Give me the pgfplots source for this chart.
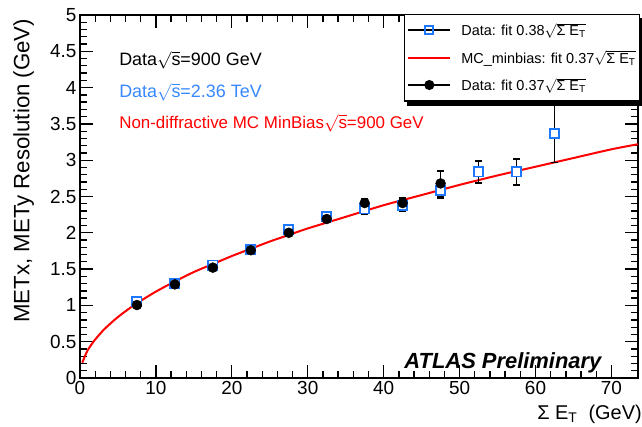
\documentclass[border=0pt]{standalone}
\usepackage{fontspec}
\setmainfont{Liberation Sans}
\usepackage{amsmath}
\usepackage{pgfplots}
\usepackage{pgfplotstable}
\pgfplotsset{compat=1.18}
\definecolor{dblue}{RGB}{30,120,255}
\definecolor{tblue}{RGB}{55,135,255}
\newcommand{\sq}[1]{$\sqrt{\text{#1}}$}

\pgfplotstableread{
x y e
7.5 1.05 0.02
12.5 1.30 0.02
17.5 1.555 0.02
22.5 1.77 0.03
27.5 2.04 0.04
32.5 2.22 0.05
37.5 2.33 0.08
42.5 2.38 0.08
47.5 2.58 0.10
52.5 2.84 0.15
57.5 2.84 0.18
62.5 3.37 0.40
}\tabblue

\pgfplotstableread{
x y e
7.5 1.005 0.02
12.5 1.29 0.02
17.5 1.52 0.03
22.5 1.76 0.03
27.5 2.00 0.04
32.5 2.19 0.05
37.5 2.41 0.06
42.5 2.41 0.07
47.5 2.68 0.17
}\tabblack

\pgfplotstableread{
x y
0.3 0.21
0.6 0.29
1 0.38
1.5 0.46
2 0.53
3 0.65
4 0.75
5 0.84
6 0.92
7.5 1.03
10 1.19
12.5 1.33
15 1.46
17.5 1.57
20 1.68
22.5 1.78
25 1.88
27.5 1.97
30 2.06
35 2.22
40 2.38
45 2.52
50 2.66
55 2.79
60 2.91
65 3.03
70 3.15
73.5 3.22
}\tabfit

\begin{document}
\begin{tikzpicture}
\path[use as bounding box] (-80bp,-49bp) rectangle (562bp,378bp);
\begin{axis}[
  at={(0,0)}, anchor=south west, scale only axis,
  width=558bp, height=363bp,
  xmin=0, xmax=73.5, ymin=0, ymax=5,
  xtick={0,10,...,70}, minor x tick num=4,
  ytick={0,0.5,...,5}, minor y tick num=4,
  tick align=inside, xtick pos=both, ytick pos=both,
  major tick length=13bp, minor tick length=7bp,
  every tick/.style={black, line width=1.3bp},
  axis line style={line width=1.5bp},
  tick label style={font=\fontsize{19}{22}\selectfont},
  /pgf/number format/assume math mode=true,
  xlabel={Σ E\textsubscript{T}\ \ (GeV)},
  xlabel style={at={(axis description cs:1.007,-0.099)}, anchor=east, inner sep=0pt, font=\fontsize{20}{24}\selectfont},
  ylabel={METx, METy Resolution (GeV)},
  ylabel style={at={(axis description cs:-0.082,0.99)}, anchor=south east, inner sep=0pt, font=\fontsize{22.3}{25}\selectfont},
  legend image code/.code={\draw[mark repeat=2,mark phase=2,#1,line width=2bp] plot coordinates {(0bp,0bp)(21bp,0bp)(42bp,0bp)};},
  legend cell align=left,
  legend style={name=leg, at={(1.004,1.003)}, anchor=north east, draw=black, line width=1.3bp, fill=white,
    font=\fontsize{14.5}{17}\selectfont, row sep=11.5bp, column sep=9bp, inner xsep=3bp, inner ysep=8bp,
    nodes={inner xsep=1bp, inner ysep=1bp}},
]
\addplot[red, line width=2bp, smooth, forget plot] table[x=x,y=y] {\tabfit};
\addplot[forget plot, only marks, mark=square*, mark size=4.6bp, mark options={draw=dblue, fill=white, line width=1.8bp},
  error bars/.cd, y dir=both, y explicit,
  error bar style={line width=1.6bp, black},
  error mark options={rotate=90, mark size=3.5bp, line width=1.6bp, black}]
  table[x=x, y=y, y error=e] {\tabblue};
\addplot[forget plot, only marks, mark=*, mark size=5bp, mark options={black, fill=black},
  error bars/.cd, y dir=both, y explicit,
  error bar style={line width=1.6bp, black},
  error mark options={rotate=90, mark size=3.5bp, line width=1.6bp, black}]
  table[x=x, y=y, y error=e] {\tabblack};

\addlegendimage{black, mark=square, mark options={draw=dblue, mark size=4bp}}
\addlegendentry{Data: fit 0.38\sq{Σ E\textsubscript{T}}}
\addlegendimage{red}
\addlegendentry{MC\_minbias: fit 0.37\sq{Σ E\textsubscript{T}}}
\addlegendimage{black, mark=*, mark options={black, fill=black, mark size=4bp}}
\addlegendentry{Data: fit 0.37\sq{Σ E\textsubscript{T}}}

\node[anchor=west, inner sep=0pt, font=\fontsize{18}{20}\selectfont] at (axis cs:5.15,4.38) {Data$\sqrt{\text{s}}$=900 GeV};
\node[anchor=west, inner sep=0pt, font=\fontsize{18}{20}\selectfont, text=tblue] at (axis cs:5.15,3.94) {Data$\sqrt{\text{s}}$=2.36 TeV};
\node[anchor=west, inner sep=0pt, font=\fontsize{17}{20}\selectfont, text=red] at (axis cs:5.15,3.51) {Non-diffractive MC MinBias$\sqrt{\text{s}}$=900 GeV};
\node[anchor=east, inner sep=0pt, font=\fontsize{22}{25}\selectfont\bfseries\itshape] at (axis cs:68.7,0.21) {ATLAS Preliminary};
\end{axis}
\fill[black] ([xshift=3bp,yshift=-4.5bp]leg.south west) rectangle ([xshift=3bp]leg.south east);
\fill[black] ([yshift=-4bp]leg.north east) rectangle ([xshift=3bp,yshift=-4.5bp]leg.south east);
\end{tikzpicture}
\end{document}
